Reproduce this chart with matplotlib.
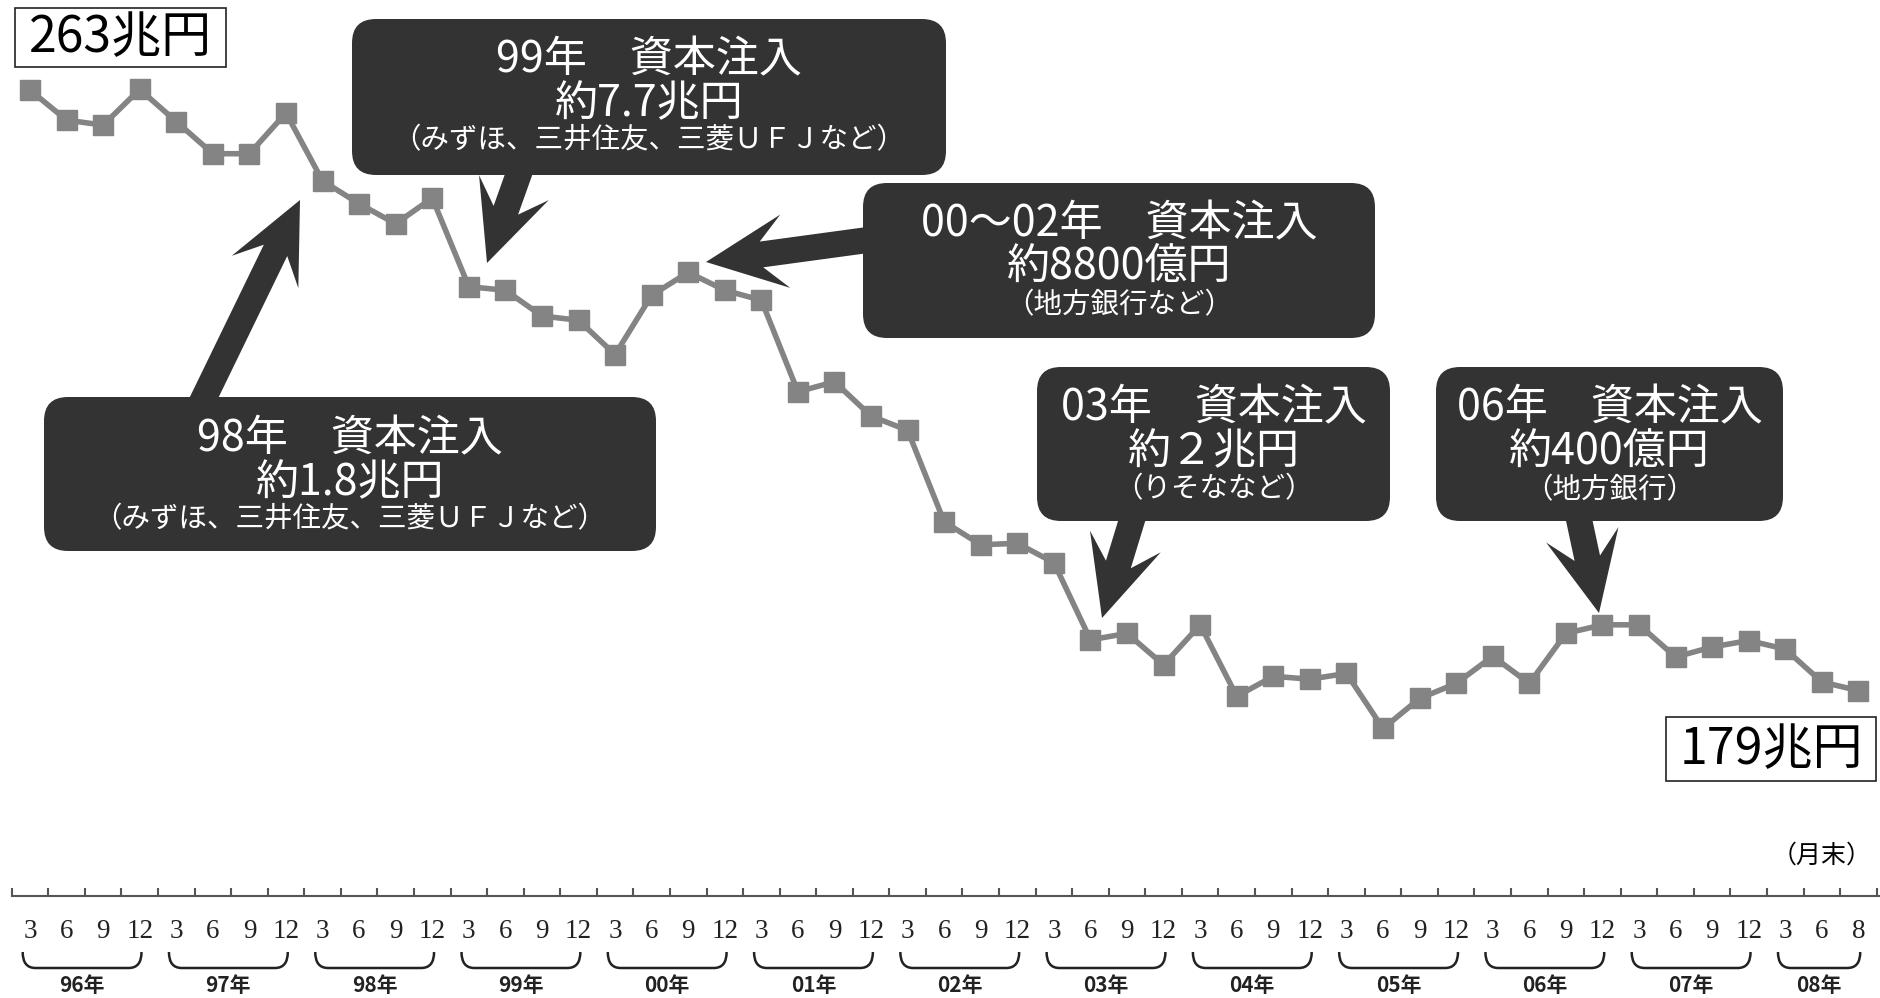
import matplotlib
matplotlib.use('Agg')
import matplotlib.pyplot as plt
import numpy as np
from matplotlib.patches import FancyBboxPatch, Polygon, Rectangle, PathPatch
from matplotlib.path import Path
from matplotlib.transforms import IdentityTransform

plt.rcParams['font.family'] = ['Noto Sans CJK JP', 'DejaVu Sans']

W, H = 1880, 998
DARK = '#333333'
LINE = '#848484'

# quarterly month-end figures, 96/3 .. 08/8 (兆円)
months = ['3', '6', '9', '12'] * 12 + ['3', '6', '8']
years = ['96年', '97年', '98年', '99年', '00年', '01年', '02年',
         '03年', '04年', '05年', '06年', '07年', '08年']
balance = [263.0, 258.8, 258.1, 263.1,
           258.6, 254.1, 254.1, 259.8,
           250.3, 247.1, 244.3, 247.9,
           235.5, 235.0, 231.4, 230.8,
           226.0, 234.3, 237.5, 235.0,
           233.6, 220.8, 222.2, 217.4,
           215.4, 202.6, 199.4, 199.6,
           196.9, 186.1, 187.0, 182.6,
           188.2, 178.2, 181.0, 180.6,
           181.4, 173.7, 177.9, 180.0,
           183.8, 180.0, 187.0, 188.2,
           188.2, 183.7, 185.1, 186.0,
           184.8, 180.2, 179.0]

notes = [
    # (box x0, y0, x1, y1), lines, line y centres, arrow tail, arrow tip
    ((352, 19, 946, 175),
     ['99年　資本注入', '約7.7兆円', '（みずほ、三井住友、三菱ＵＦＪなど）'],
     [60, 104, 140], (522, 165), (487, 263)),
    ((863, 183, 1375, 338),
     ['00～02年　資本注入', '約8800億円', '（地方銀行など）'],
     [224, 267, 305], (875, 239), (706, 262)),
    ((44, 397, 656, 551),
     ['98年　資本注入', '約1.8兆円', '（みずほ、三井住友、三菱ＵＦＪなど）'],
     [439, 483, 519], (198, 410), (300, 200)),
    ((1037, 367, 1390, 521),
     ['03年　資本注入', '約２兆円', '（りそななど）'],
     [408, 452, 489], (1135, 510), (1102, 618)),
    ((1436, 367, 1783, 521),
     ['06年　資本注入', '約400億円', '（地方銀行）'],
     [408, 452, 490], (1577, 510), (1599, 613)),
]

fig = plt.figure(figsize=(W / 100, H / 100), dpi=100)
ax = fig.add_axes([0, 0, 1, 1])
ax.set_xlim(-0.82, 50.59)
ax.set_ylim(136.0, 275.6)
ax.axis('off')

x = np.arange(len(balance))
ax.plot(x, balance, color=LINE, lw=4, marker='s', ms=14.5, mec=LINE, mfc=LINE, zorder=2)

ident = IdentityTransform()


def px(x, y):
    # pixel from the top-left -> display coords
    return x, H - y


def arrow(tail, tip, w=13, hw=37, hl=80, notch=24):
    t = np.array(px(*tail), float)
    p = np.array(px(*tip), float)
    d = (p - t) / np.hypot(*(p - t))
    n = np.array([-d[1], d[0]])
    base = p - d * hl
    neck = p - d * (hl - notch)
    pts = [t + n * w, neck + n * w, base + n * hw, p, base - n * hw, neck - n * w, t - n * w]
    ax.add_patch(Polygon(pts, closed=True, fc=DARK, ec='none', transform=ident,
                         clip_on=False, zorder=4))


for (x0, y0, x1, y1), lines, ys, tail, tip in notes:
    arrow(tail, tip)
    bx, by = px(x0, y1)
    ax.add_patch(FancyBboxPatch((bx, by), x1 - x0, y1 - y0,
                                boxstyle='round,pad=0,rounding_size=24',
                                fc=DARK, ec='none', transform=ident, clip_on=False, zorder=5))
    cx = (x0 + x1) / 2
    for s, yy, fs in zip(lines, ys, [31, 31, 20.5]):
        ax.text(*px(cx, yy), s, color='white', fontsize=fs, ha='center', va='center',
                transform=ident, zorder=6)

# start / end value labels
for (x0, y0, x1, y1), s in [((15, 8, 226, 67), '263兆円'), ((1666, 717, 1876, 781), '179兆円')]:
    ax.add_patch(Rectangle(px(x0, y1), x1 - x0, y1 - y0, fc='white', ec='#222222', lw=1.2,
                           transform=ident, clip_on=False, zorder=5))
    ax.text(*px((x0 + x1) / 2, (y0 + y1) / 2 + 1), s, fontsize=36, ha='center', va='center',
            color='black', transform=ident, zorder=6)

# bottom axis drawn by hand
xt = ax.get_xaxis_transform()
axis_y = 1 - 896 / H
ax.plot([-0.5, 50.6], [axis_y, axis_y], color='#555555', lw=1.5, transform=xt, clip_on=False)
ticks = np.arange(-0.5, 51, 1)
ax.vlines(ticks, axis_y, axis_y + 8 / H, color='#555555', lw=1.5, transform=xt)
for i, m in enumerate(months):
    ax.text(i, 1 - 931 / H, m, fontsize=19.5, family='Liberation Serif', ha='center',
            va='center', color='#222222', transform=xt)

ax.text(1822, H - 856, '（月末）', fontsize=18, ha='center', va='center', transform=ident)

# year brackets
top, bot = 1 - 952 / H, 1 - 968 / H
for k, yl in enumerate(years):
    i0 = 4 * k
    i1 = min(4 * k + 3, len(balance) - 1)
    a, b = i0 - 0.2, i1 + 0.05
    verts = [(a, top), (a, bot), (a + 0.35, bot), (b - 0.35, bot), (b, bot), (b, top)]
    codes = [Path.MOVETO, Path.CURVE3, Path.CURVE3, Path.LINETO, Path.CURVE3, Path.CURVE3]
    ax.add_patch(PathPatch(Path(verts, codes), fc='none', ec='#222222', lw=1.8,
                           transform=xt, clip_on=False))
    ax.text((a + b) / 2, 1 - 985 / H, yl, fontsize=15, fontweight='bold', ha='center',
            va='center', color='#222222', transform=xt)

fig.savefig('out.png', dpi=100)
